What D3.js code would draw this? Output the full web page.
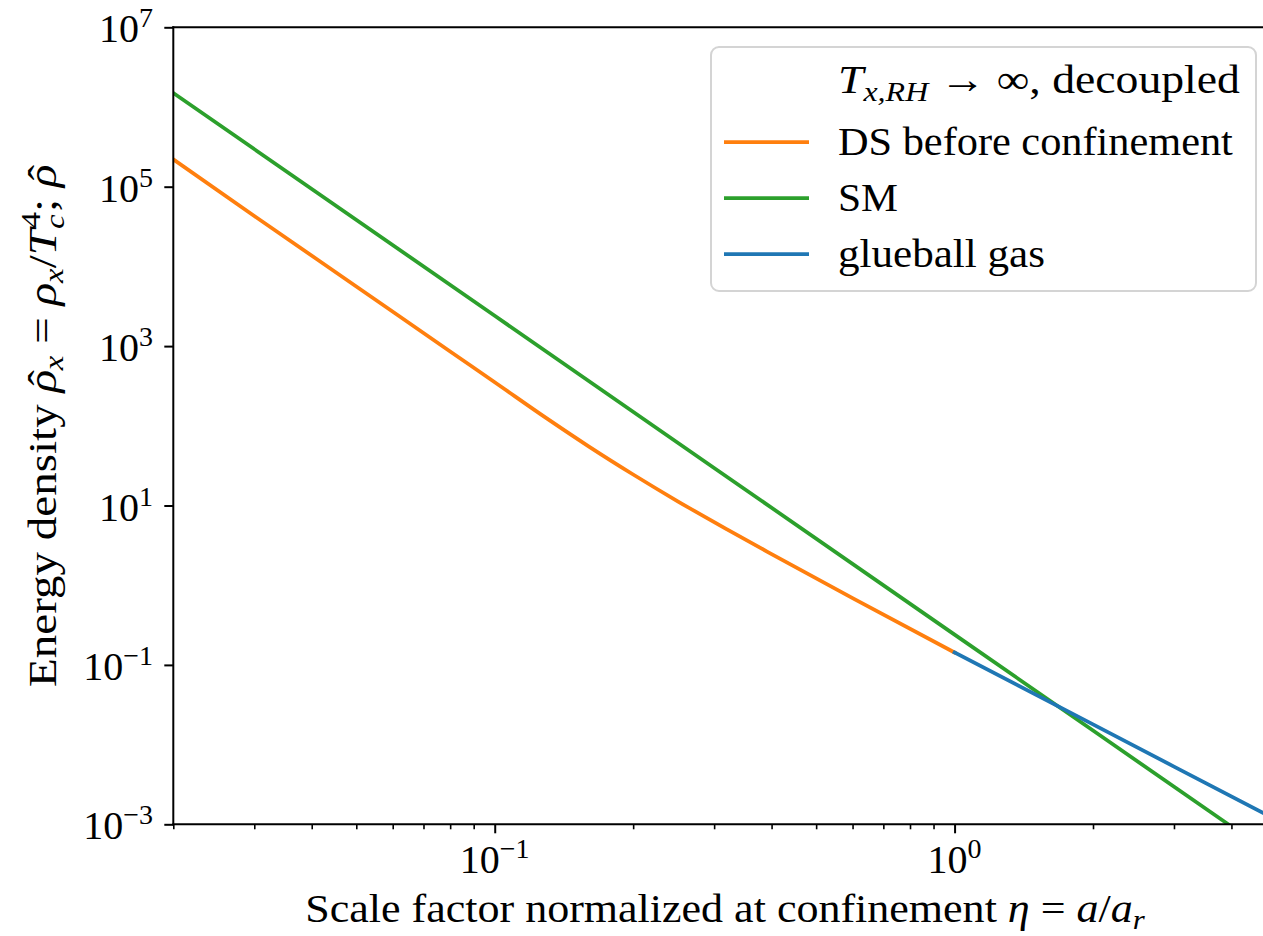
<!DOCTYPE html>
<html>
<head>
<meta charset="utf-8">
<script src="https://cdn.jsdelivr.net/npm/d3@7"></script>
<style>
  html, body { margin: 0; padding: 0; background: #fff; overflow: hidden; }
  svg { display: block; }
  text { font-family: "Liberation Serif", "DejaVu Serif", serif; fill: #000; }
</style>
</head>
<body>
<svg id="chart" width="1263" height="936"></svg>
<script>
// Energy density of the dark sector, the SM bath and the glueball gas
// against the scale factor normalized at confinement (log-log axes).

const etaDS = [0.02, 0.03, 0.05, 0.08, 0.1, 0.13, 0.16, 0.2, 0.25, 0.32, 0.4, 0.6, 1.0];
const rhoDS = [2.2e5, 4.3e4, 5.6e3, 855, 352, 123, 55.3, 24.5, 11.3, 5.02, 2.46, 0.687, 0.143];

const etaSM = [0.02, 0.1, 0.3, 1.0, 2.0, 4.0, 5.0];
const rhoSM = [1.5e6, 2400, 29.6, 0.24, 0.015, 9.4e-4, 3.84e-4];

const etaGB = [1.0, 2.0, 3.0, 5.0];
const rhoGB = [0.143, 0.0179, 0.0053, 1.14e-3];

const xMajorTicks = [0.1, 1];
const xMajorExps = ["\u22121", "0"];
const xMinorTicks = [0.02, 0.03, 0.04, 0.05, 0.06, 0.07, 0.08, 0.09,
                     0.2, 0.3, 0.4, 0.5, 0.6, 0.7, 0.8, 0.9, 2, 3, 4];
const yMajorTicks = [1e-3, 1e-1, 1e1, 1e3, 1e5, 1e7];
const yMajorExps = ["\u22123", "\u22121", "1", "3", "5", "7"];

const seriesNames = ["DS before confinement", "SM", "glueball gas"];
const seriesColors = ["#ff7f0e", "#2ca02c", "#1f77b4"];

const svg = d3.select("#chart");

const plot = { left: 173.3, right: 1276, top: 27.3, bottom: 824.3 };

const x = d3.scaleLog().domain([0.02, 5]).range([plot.left, plot.right]);
const y = d3.scaleLog().domain([1e-3, 1e7]).range([plot.bottom, plot.top]);

// rich text helper: parts = [{t, i (italic), s (size), off (baseline offset), dx}]
function addParts(sel, parts) {
  let cur = 0;
  parts.forEach(p => {
    const ts = sel.append("tspan").text(p.t);
    const off = p.off || 0;
    if (off !== cur) { ts.attr("dy", off - cur); cur = off; }
    if (p.dx) ts.attr("dx", p.dx);
    if (p.i) ts.attr("font-style", "italic");
    if (p.s) ts.attr("font-size", p.s);
  });
}

// widen a text horizontally so it spans the given width
function placeFitted(sel, target, pre) {
  const w = sel.node().getBBox().width;
  const k = w > 0 ? target / w : 1;
  sel.attr("transform", `${pre} scale(${k},1)`);
}

// clip region for the curves
svg.append("defs").append("clipPath").attr("id", "plotClip")
  .append("rect")
  .attr("x", plot.left).attr("y", plot.top)
  .attr("width", plot.right - plot.left).attr("height", plot.bottom - plot.top);

// curves
const series = [
  { eta: etaDS, rho: rhoDS, curve: d3.curveMonotoneX },
  { eta: etaSM, rho: rhoSM, curve: d3.curveLinear },
  { eta: etaGB, rho: rhoGB, curve: d3.curveLinear }
];

const gLines = svg.append("g").attr("clip-path", "url(#plotClip)");
series.forEach((s, k) => {
  const pts = s.eta.map((e, i) => [e, s.rho[i]]);
  const line = d3.line().x(d => x(d[0])).y(d => y(d[1])).curve(s.curve);
  gLines.append("path")
    .attr("d", line(pts))
    .attr("fill", "none")
    .attr("stroke", seriesColors[k])
    .attr("stroke-width", 3.75)
    .attr("stroke-linecap", "square");
});

// axes (ticks only, spines drawn separately)
const xMajor = d3.axisBottom(x).tickValues(xMajorTicks).tickSize(9).tickSizeOuter(0).tickFormat(() => "");
const xMinor = d3.axisBottom(x).tickValues(xMinorTicks).tickSize(5).tickSizeOuter(0).tickFormat(() => "");
const yMajor = d3.axisLeft(y).tickValues(yMajorTicks).tickSize(9).tickSizeOuter(0).tickFormat(() => "");

const gx = svg.append("g").attr("transform", `translate(0,${plot.bottom})`).call(xMajor);
const gxm = svg.append("g").attr("transform", `translate(0,${plot.bottom})`).call(xMinor);
const gy = svg.append("g").attr("transform", `translate(${plot.left},0)`).call(yMajor);

[gx, gxm, gy].forEach(g => {
  g.select(".domain").remove();
  g.selectAll(".tick line").attr("stroke", "#000");
});
gx.selectAll(".tick line").attr("stroke-width", 2);
gy.selectAll(".tick line").attr("stroke-width", 2);
gxm.selectAll(".tick line").attr("stroke-width", 1.6);

// tick labels with superscript exponents
xMajorTicks.forEach((v, i) => {
  const t = svg.append("text")
    .attr("x", x(v)).attr("y", 873)
    .attr("text-anchor", "middle")
    .attr("font-size", 40);
  addParts(t, [{ t: "10" }, { t: xMajorExps[i], s: 28, off: -15 }]);
});
yMajorTicks.forEach((v, i) => {
  const t = svg.append("text")
    .attr("x", 153).attr("y", y(v) + 15)
    .attr("text-anchor", "end")
    .attr("font-size", 40);
  addParts(t, [{ t: "10" }, { t: yMajorExps[i], s: 28, off: -15 }]);
});

// spines
const spine = svg.append("g").attr("stroke", "#000").attr("stroke-width", 2).attr("stroke-linecap", "square");
spine.append("line").attr("x1", plot.left).attr("x2", plot.left).attr("y1", plot.top).attr("y2", plot.bottom);
spine.append("line").attr("x1", plot.left).attr("x2", plot.right).attr("y1", plot.bottom).attr("y2", plot.bottom);
spine.append("line").attr("x1", plot.left).attr("x2", plot.right).attr("y1", plot.top).attr("y2", plot.top);
spine.append("line").attr("x1", plot.right).attr("x2", plot.right).attr("y1", plot.top).attr("y2", plot.bottom);

// axis titles
const xt = svg.append("text")
  .attr("x", 0).attr("y", 0)
  .attr("text-anchor", "middle").attr("font-size", 40);
addParts(xt, [
  { t: "Scale factor normalized at confinement " },
  { t: "\u03b7", i: true },
  { t: " = " },
  { t: "a", i: true },
  { t: "/" },
  { t: "a", i: true },
  { t: "r", i: true, s: 28, off: 7 }
]);
placeFitted(xt, 840, `translate(725,922)`);

const yt = svg.append("text")
  .attr("x", 0).attr("y", 0)
  .attr("text-anchor", "middle").attr("font-size", 40);
addParts(yt, [
  { t: "Energy density " },
  { t: "\u03c1", i: true },
  { t: "\u02c6", dx: -13.5 },
  { t: "x", i: true, s: 28, off: 7 },
  { t: "  =  " },
  { t: "\u03c1", i: true },
  { t: "x", i: true, s: 28, off: 7 },
  { t: "/" },
  { t: "T", i: true },
  { t: "c", i: true, s: 28, off: 8 },
  { t: "4", s: 28, off: -16, dx: -12 },
  { t: "; " },
  { t: "\u03c1", i: true },
  { t: "\u02c6", dx: -13.5 }
]);
placeFitted(yt, 523, `translate(56,${(plot.top + plot.bottom) / 2}) rotate(-90)`);

// legend
const lg = svg.append("g");
lg.append("rect")
  .attr("x", 711).attr("y", 47).attr("width", 545).attr("height", 244)
  .attr("rx", 8).attr("ry", 8)
  .attr("fill", "#fff").attr("fill-opacity", 0.8)
  .attr("stroke", "#d4d4d4").attr("stroke-width", 2);

const head = lg.append("text").attr("x", 0).attr("y", 0).attr("font-size", 40);
addParts(head, [
  { t: "T", i: true },
  { t: "x,RH", i: true, s: 28, off: 8 },
  { t: " \u2192 \u221e, decoupled" }
]);
placeFitted(head, 402, `translate(838,93)`);

const nameWidths = [395, 60, 207];
seriesNames.forEach((name, k) => {
  const yy = 142 + k * 56;
  lg.append("line")
    .attr("x1", 724).attr("x2", 809).attr("y1", yy).attr("y2", yy)
    .attr("stroke", seriesColors[k]).attr("stroke-width", 3.75);
  const t = lg.append("text").attr("x", 0).attr("y", 0).attr("font-size", 40).text(name);
  placeFitted(t, nameWidths[k], `translate(838,${yy + 13})`);
});
</script>
</body>
</html>
